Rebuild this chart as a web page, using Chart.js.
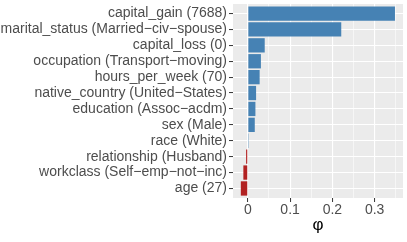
<!DOCTYPE html>
<html lang="en">
<head>
  <meta charset="UTF-8">
  <title>Feature contributions (phi)</title>
  <style>
    html, body {
      margin: 0;
      padding: 0;
      background: #ffffff;
    }
    canvas {
      display: block;
    }
  </style>
</head>
<body>

  <canvas id="phiChart" width="407" height="242"></canvas>

  <script src="https://cdn.jsdelivr.net/npm/chart.js"></script>

  <script>
    // Features, top to bottom
    const features = [
      'capital_gain (7688)',
      'marital_status (Married−civ−spouse)',
      'capital_loss (0)',
      'occupation (Transport−moving)',
      'hours_per_week (70)',
      'native_country (United−States)',
      'education (Assoc−acdm)',
      'sex (Male)',
      'race (White)',
      'relationship (Husband)',
      'workclass (Self−emp−not−inc)',
      'age (27)'
    ];

    // phi value of each feature
    const phiValues = [0.348, 0.221, 0.040, 0.031, 0.028, 0.0196, 0.018, 0.0165, 0.0005, -0.004, -0.0105, -0.0165];

    // x axis ticks (major every 0.1, minor in between)
    const xTicks = [0, 0.05, 0.1, 0.15, 0.2, 0.25, 0.3, 0.35];
    const xMajorTicks = [0, 0.1, 0.2, 0.3];

    const posColor = '#4682B4';
    const negColor = '#B22222';
    const textColor = '#4D4D4D';

    const isMajor = v => xMajorTicks.some(m => Math.abs(m - v) < 1e-9);

    // grey ggplot-like panel
    const panelBackground = {
      id: 'panelBackground',
      beforeDraw(chart) {
        const { ctx, chartArea } = chart;
        ctx.save();
        ctx.fillStyle = '#ffffff';
        ctx.fillRect(0, 0, chart.width, chart.height);
        ctx.fillStyle = '#EBEBEB';
        ctx.fillRect(chartArea.left, chartArea.top,
          chartArea.right - chartArea.left, chartArea.bottom - chartArea.top);
        ctx.restore();
      }
    };

    const ctx = document.getElementById('phiChart').getContext('2d');
    new Chart(ctx, {
      type: 'bar',
      data: {
        datasets: [{
          data: phiValues.map((v, i) => ({ x: v, y: i })),
          backgroundColor: phiValues.map(v => v >= 0 ? posColor : negColor),
          borderWidth: 0,
          categoryPercentage: 1,
          barPercentage: 0.9
        }]
      },
      options: {
        indexAxis: 'y',
        responsive: false,
        animation: false,
        layout: {
          padding: { top: 4, right: 4, left: 0, bottom: 0 }
        },
        plugins: {
          legend: { display: false },
          tooltip: { enabled: false }
        },
        scales: {
          x: {
            type: 'linear',
            min: -0.035,
            max: 0.367,
            afterBuildTicks: scale => {
              scale.ticks = xTicks.map(v => ({ value: v }));
            },
            afterFit: scale => {
              scale.height = 44;
            },
            ticks: {
              autoSkip: false,
              maxRotation: 0,
              padding: 0,
              color: textColor,
              font: { family: 'Liberation Sans', size: 14 },
              callback: v => isMajor(v) ? (v === 0 ? '0' : String(v)) : ''
            },
            grid: {
              color: '#ffffff',
              lineWidth: c => isMajor(c.tick.value) ? 1.1 : 0.55,
              tickColor: c => isMajor(c.tick.value) ? '#333333' : 'rgba(0,0,0,0)',
              tickLength: 4,
              tickWidth: 1
            },
            border: { display: false },
            title: {
              display: true,
              text: 'φ',
              color: '#000000',
              font: { family: 'Liberation Sans', size: 17 },
              padding: { top: 0, bottom: 6 }
            }
          },
          y: {
            type: 'linear',
            reverse: true,
            offset: false,
            min: -0.6,
            max: features.length - 0.4,
            afterBuildTicks: scale => {
              scale.ticks = features.map((_, i) => ({ value: i }));
            },
            afterFit: scale => {
              scale.width = 233;
            },
            ticks: {
              autoSkip: false,
              padding: 2,
              color: textColor,
              // tiny line height so the labels do not pad the plot area
              font: { family: 'Liberation Sans', size: 14, lineHeight: 0.01 },
              callback: v => features[v]
            },
            grid: {
              offset: false,
              color: '#ffffff',
              lineWidth: 1.1,
              tickColor: '#333333',
              tickLength: 4,
              tickWidth: 1
            },
            border: { display: false }
          }
        }
      },
      plugins: [panelBackground]
    });
  </script>

</body>
</html>
